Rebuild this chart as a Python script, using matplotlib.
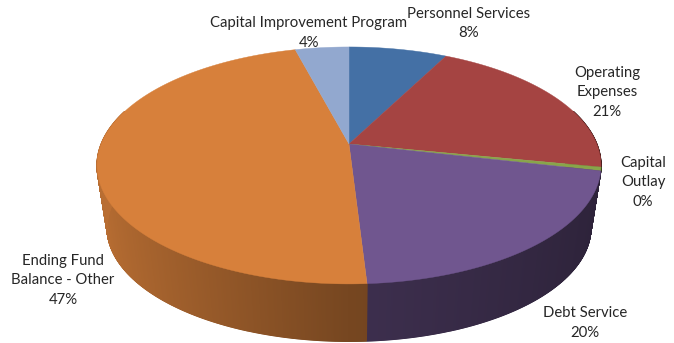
import numpy as np
import matplotlib.pyplot as plt
from matplotlib.colors import to_rgb

plt.rcParams['font.family'] = ['Lato', 'DejaVu Sans']

names = ['Personnel Services', 'Operating\nExpenses', 'Capital\nOutlay',
         'Debt Service', 'Ending Fund\nBalance - Other', 'Capital Improvement Program']
shares = [7.51, 20.6, 0.49, 20.45, 46.85, 4.1]
colors = ['#4470A5', '#A54442', '#88A54A', '#70568F', '#D7803B', '#92A8CF']
label_x = [469, 607, 643, 585, 63, 309]
label_y = [23.5, 92, 182, 323, 280, 33]

W, H = 674, 343
cx, cy = 349, 144     # apex of the top face
a, b, k = 247.8, 114.6, 0.181   # ellipse radii and perspective strength
depth, shrink = 63, 0.96


def project(theta, drop=0.0, scale=1.0):
    # theta runs clockwise from 12 o'clock, far side of the disc is foreshortened
    u, v = np.sin(theta), np.cos(theta)
    w = 1 + k*v
    return cx + scale*a*u/w, cy + drop - scale*b*v/w


def wall_shade(theta):
    return np.interp(np.sin(theta), [-1, 0, 1], [0.86, 0.55, 0.40])


fig = plt.figure(figsize=(W/100, H/100), dpi=100)
ax = fig.add_axes([0, 0, 1, 1])
ax.set_xlim(0, W)
ax.set_ylim(H, 0)
ax.axis('off')

edges = 2*np.pi*np.concatenate([[0], np.cumsum(shares)])/np.sum(shares)

# side wall first, thin strips so the shading changes along the rim
for i, col in enumerate(colors):
    n = max(2, int((edges[i+1]-edges[i])*300))
    th = np.linspace(edges[i], edges[i+1], n+1)
    base = np.array(to_rgb(col))
    for t0, t1 in zip(th[:-1], th[1:]):
        if np.cos((t0+t1)/2) > 0.3:
            continue
        x0, y0 = project(np.array([t0, t1]))
        x1, y1 = project(np.array([t1, t0]), depth, shrink)
        c = base*wall_shade((t0+t1)/2)
        ax.fill(np.r_[x0, x1], np.r_[y0, y1], facecolor=c, edgecolor=c,
                lw=0.9, zorder=2)

# top face
for i, col in enumerate(colors):
    th = np.linspace(edges[i], edges[i+1], 200)
    x, y = project(th)
    ax.fill(np.r_[cx, x], np.r_[cy, y], color=col, lw=0.3, zorder=3)

for name, share, lx, ly in zip(names, shares, label_x, label_y):
    ax.text(lx, ly, f'{name}\n{round(share)}%', ha='center', va='center',
            fontsize=10.7, color='#262626', linespacing=1.5, zorder=4)

plt.savefig('out.png', dpi=100)
